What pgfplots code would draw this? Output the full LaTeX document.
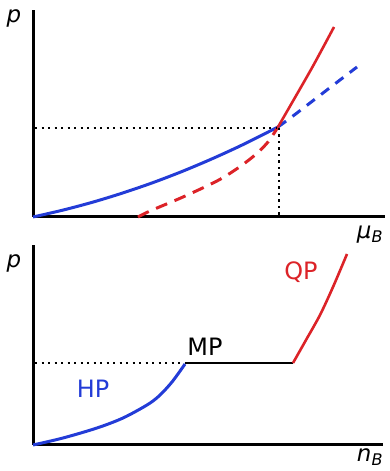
\documentclass[border=0pt]{standalone}
\usepackage{pgfplots}
\pgfplotsset{compat=1.18}
\usepackage{fontspec}
\setmainfont{DejaVu Sans}
\definecolor{cblue}{RGB}{35,60,215}
\definecolor{cred}{RGB}{220,35,40}
\begin{document}
\begin{tikzpicture}[x=1bp,y=1bp]
\path[use as bounding box] (0,0) rectangle (389,471);
\pgfplotsset{myax/.style={x=1bp,y=1bp,axis lines=left,axis line style={line width=3bp,-},
  ticks=none,anchor=south west,clip=false,xmin=0,ymin=0}}
% top panel
\begin{axis}[myax,at={(33bp,254bp)},xmax=352,ymax=207]
\addplot[cblue,line width=3bp,smooth] coordinates {(0,0) (30,6.9) (60,14.9) (90,24.1) (120,34.4) (150,45.9) (180,58.6) (210,72.4) (245,90)};
\addplot[cblue,line width=3bp,dash pattern=on 10bp off 8bp,smooth] coordinates {(245,90) (260,101) (290,124) (324,150)};
\addplot[cred,line width=3bp,dash pattern=on 12bp off 8bp,smooth] coordinates {(105,0) (117,6) (150,20) (184,36) (205,49) (222,62) (235,75) (245,90)};
\addplot[cred,line width=2.6bp,smooth] coordinates {(245,90) (260,116) (280,151) (301,190)};
\addplot[black,line width=2.4bp,dash pattern=on 2.2bp off 4.3bp] coordinates {(2,89) (244,89)};
\addplot[black,line width=2.4bp,dash pattern=on 2.2bp off 4.3bp] coordinates {(246,89) (246,2)};
\end{axis}
% bottom panel
\begin{axis}[myax,at={(33bp,26bp)},xmax=350,ymax=200]
\addplot[cblue,line width=3bp,smooth] coordinates {(0,0) (30,7) (64,17) (90,27) (114,40) (126,49) (139,63) (152,81)};
\addplot[black,line width=2.6bp] coordinates {(152,82) (260,82)};
\addplot[black,line width=2.4bp,dash pattern=on 2.2bp off 4.3bp] coordinates {(2,82) (152,82)};
\addplot[cred,line width=2.6bp,smooth] coordinates {(260,82) (273,105) (287,130) (300,158) (314,191)};
\end{axis}
\node[font=\fontsize{23}{26}\selectfont] at (14,453) {\textit{p}};
\node[font=\fontsize{23}{26}\selectfont] at (370,236) {\textit{μ}\textsubscript{\textit{B}}};
\node[font=\fontsize{23}{26}\selectfont] at (14,208) {\textit{p}};
\node[font=\fontsize{23}{26}\selectfont] at (370,14) {\textit{n}\textsubscript{\textit{B}}};
\node[cblue,font=\fontsize{24}{28}\selectfont] at (93,82) {HP};
\node[black,font=\fontsize{24}{28}\selectfont] at (205,124) {MP};
\node[cred,font=\fontsize{24}{28}\selectfont] at (301,199) {QP};
\end{tikzpicture}
\end{document}
